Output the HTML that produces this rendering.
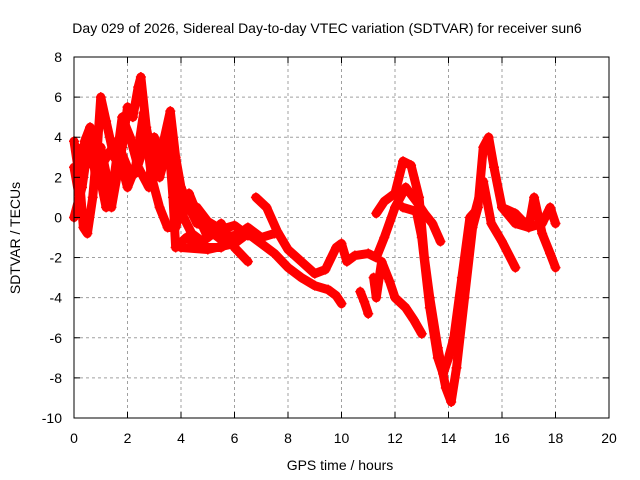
<!DOCTYPE html>
<html><head><meta charset="utf-8"><style>
body{margin:0;background:#fff}
svg{display:block;font-family:"Liberation Sans",sans-serif}
</style></head><body>
<svg id="chart" width="640" height="480" viewBox="0 0 640 480">
<rect width="640" height="480" fill="#fff"/>
<g id="grid"></g>
<g id="series"></g>
<rect x="74" y="57" width="535" height="361" fill="none" stroke="#000" stroke-width="1"/>
<g id="ticks"></g>
<text x="327" y="33" font-size="14" text-anchor="middle">Day 029 of 2026, Sidereal Day-to-day VTEC variation (SDTVAR) for receiver sun6</text>
<text x="340" y="470" font-size="14" text-anchor="middle">GPS time / hours</text>
<text transform="translate(20,238) rotate(-90)" font-size="14" text-anchor="middle">SDTVAR / TECUs</text>
</svg>
<script>
const xTicks=[0,2,4,6,8,10,12,14,16,18,20];
const yTicks=[-10,-8,-6,-4,-2,0,2,4,6,8];
const tA=[0,0.2,0.35,0.5,0.7,0.8,1,1.2,1.4,1.6,1.8,2,2.2,2.4,2.5,2.7,3,3.3,3.6,3.8,4,4.3,4.6,5,5.5,6];
const vA=[3.8,2,-0.5,-0.8,1,2.5,3.5,2.2,0.5,2,3.5,5.5,5,6.5,7,4.5,2.5,3.5,5.3,3,1.5,0.5,-0.3,-0.5,-1,-0.9];
const tB=[0,0.2,0.4,0.6,0.8,1,1.2,1.5,1.8,2,2.3,2.6,2.9,3.2,3.5,3.8,4,4.3,4.6,5,5.5,6,6.5];
const vB=[2.5,1,3.8,4.5,2,6,4.8,3,2.5,1.5,2.5,5.2,2,0.5,-0.5,-0.5,0.5,1.2,0.2,-1,-0.3,-1.5,-2.2];
const tC=[0,0.3,0.6,0.9,1.2,1.5,1.8,2.1,2.4,2.8,3,3.3,3.5,3.7,3.8,4.2,4.8,5.5,6,6.5,7];
const vC=[0,1.5,4.2,2.5,0.5,2,5,4,2.5,1.5,4,3,4.5,1,-1.5,-1,-1.5,-1.5,-1,-0.5,-1];
const tK=[0.1,0.4,0.7,1,1.3,1.6,2,2.3,2.6,2.9,3.2,3.5,3.8,4.1,4.4,4.8,5.2,5.6];
const vK=[3.5,2.5,3,2.5,3.2,3.8,2.5,2.2,3.5,3,2,3.5,2,0,-0.8,-1.2,-0.8,-1.2];
const tL=[4,4.3,4.6,5,5.5,6,6.5,7,7.5];
const vL=[1.5,0.5,0.5,-0.2,-0.6,-0.4,-0.9,-1,-0.8];
const tD=[6.8,7.2,7.6,8,8.5,9,9.4,9.8,10,10.2,10.5,11,11.3,11.6,12,12.4,12.8,13.1,13.4,13.7];
const vD=[1,0.5,-0.7,-1.6,-2.2,-2.8,-2.6,-1.5,-1.3,-2.2,-1.9,-1.8,-2,-1,0.5,1.5,0.8,0.2,-0.3,-1.2];
const tE=[4,5,6,6.5,7,7.5,8,8.5,9,9.5,9.8,10];
const vE=[-1.5,-1.6,-1.3,-0.8,-1.3,-1.8,-2.5,-3,-3.4,-3.6,-3.9,-4.3];
const tF=[10.7,10.85,11];
const vF=[-3.7,-4.2,-4.8];
const tG=[11.2,11.3,11.5,11.8,12,12.4,12.7,13];
const vG=[-3,-4,-2.2,-3.2,-4,-4.5,-5.1,-5.8];
const tH=[11.3,11.6,12,12.3,12.6,12.9,13.1,13.3,13.6,13.9,14.1,14.3,14.6,14.9,15.1,15.3,15.5,15.7,16,16.5,17,17.5,17.8,18];
const vH=[0.2,0.8,1.2,2.8,2.6,1,-2,-4,-6.5,-8.5,-9.2,-7.5,-4,-0.5,0.5,3.5,4,2.5,0.5,0.2,-0.5,-0.3,0.5,-0.3];
const tI=[12.3,12.8,13,13.3,13.6,13.8,14,14.2,14.5,14.8,15,15.3,15.6,16,16.5];
const vI=[0.5,0.3,-1,-4.5,-7,-7.8,-7,-6,-3,0,0.3,1.8,-0.3,-1.2,-2.5];
const tJ=[16,16.5,17,17.2,17.5,17.8,18];
const vJ=[0.5,-0.3,-0.5,1,-0.8,-1.8,-2.5];
const X=t=>74+t*535/20, Y=v=>57+(8-v)*361/18;
const NS='http://www.w3.org/2000/svg';
const grid=document.getElementById('grid'),ticks=document.getElementById('ticks'),ser=document.getElementById('series');
function mk(tag,a,p){const e=document.createElementNS(NS,tag);for(const k in a)e.setAttribute(k,a[k]);p.appendChild(e);return e;}
xTicks.forEach(t=>{const x=X(t);
 if(t>0&&t<20){const g=mk('line',{x1:x,x2:x,y1:57,y2:418,stroke:'#a0a0a0','stroke-dasharray':'3,3'},grid);}
 mk('line',{x1:x,x2:x,y1:418,y2:412,stroke:'#000'},ticks);mk('line',{x1:x,x2:x,y1:57,y2:63,stroke:'#000'},ticks);
 const l=mk('text',{x:x,y:443,'font-size':14,'text-anchor':'middle'},ticks);l.textContent=t;
 });
yTicks.forEach(v=>{const y=Y(v);
 if(v>-10&&v<8){const g=mk('line',{x1:74,x2:609,y1:y,y2:y,stroke:'#a0a0a0','stroke-dasharray':'3,3'},grid);}
 mk('line',{x1:74,x2:80,y1:y,y2:y,stroke:'#000'},ticks);mk('line',{x1:609,x2:603,y1:y,y2:y,stroke:'#000'},ticks);
 const l=mk('text',{x:62,y:y+5,'font-size':14,'text-anchor':'end'},ticks);l.textContent=v;
 });
const traces=[[tA,vA],[tB,vB],[tC,vC],[tK,vK],[tL,vL],[tD,vD],[tE,vE],[tF,vF],[tG,vG],[tH,vH],[tI,vI],[tJ,vJ]];
traces.forEach(([ts,vs],i)=>{
 const pts=ts.map((t,k)=>X(t)+','+Y(vs[k])).join(' ');
 const pl=mk('polyline',{points:pts,fill:'none',stroke:'#f00','stroke-width':9,'stroke-linejoin':'round','stroke-linecap':'round'},ser);
 
 
 ts.forEach((t,k)=>{const x=X(t),y=Y(vs[k]);
  const m=mk('path',{d:`M${x-5},${y}h10M${x},${y-5}v10`,stroke:'#f00','stroke-width':1.5},ser);
  
  });
});
</script>
</body></html>
